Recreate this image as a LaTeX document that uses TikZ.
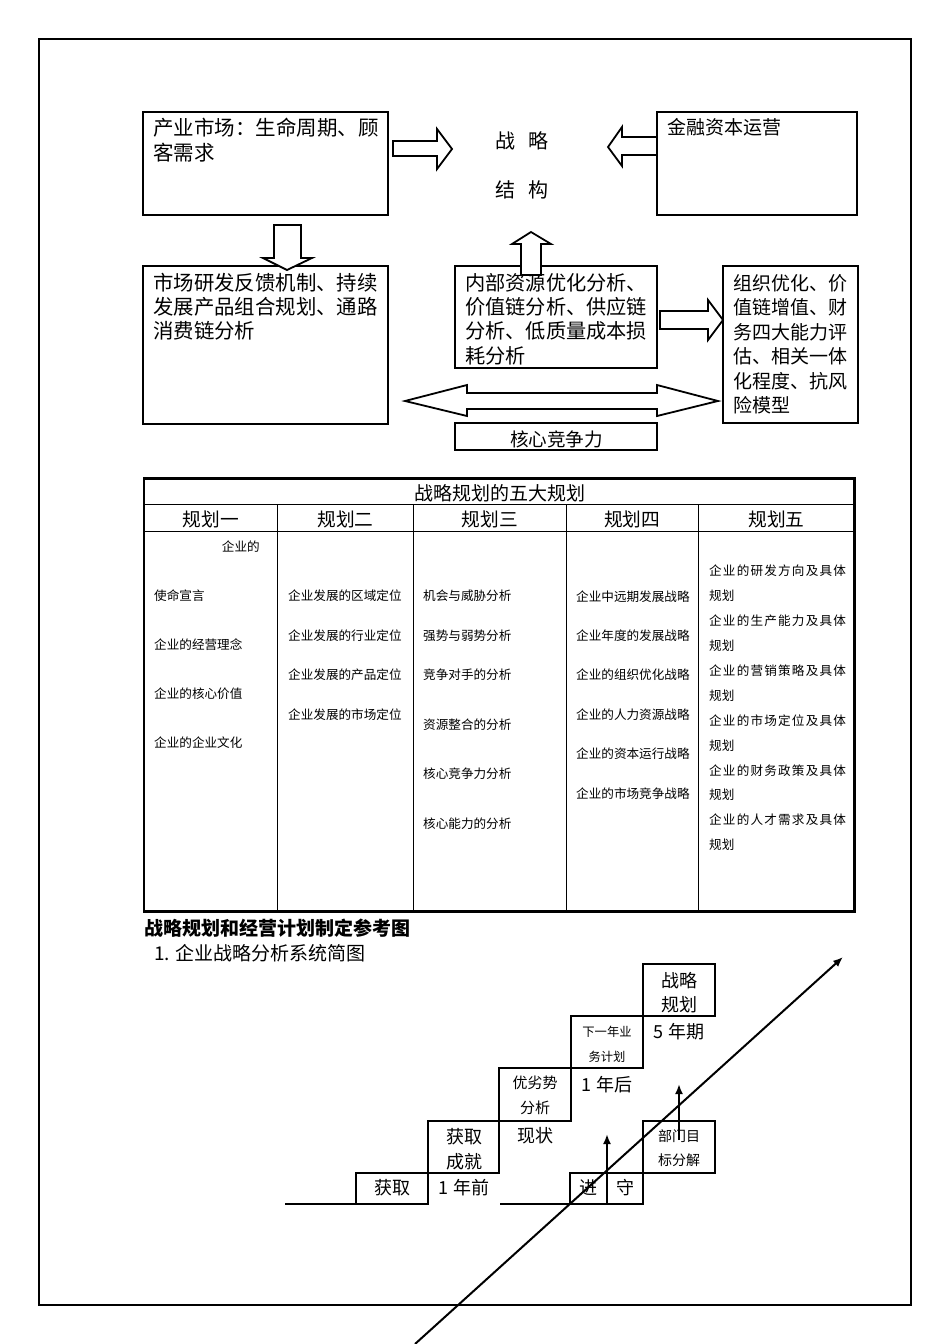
\documentclass[tikz,border=0pt]{standalone}
\usepackage{fontspec}
\usetikzlibrary{arrows.meta}
\newfontfamily\cjk{Noto Sans CJK SC}
\newfontfamily\cjkwide[LetterSpace=9.5]{Noto Sans CJK SC}
\tikzset{
  lbl/.style={inner sep=0pt, anchor=west},
  ctr/.style={inner sep=0pt, anchor=center},
  f/.style={font=\cjk\fontsize{#1}{#1}\selectfont},
  fw/.style={font=\cjkwide\fontsize{#1}{#1}\selectfont},
  box/.style={draw, line width=2pt, inner sep=0pt},
  barrow/.style={draw, fill=white, line width=1.8pt, line join=miter},
  stair/.style={draw, line width=2.5pt},
  thin/.style={line width=1pt},
  arr/.style={line width=2pt, -{Latex[length=10pt,width=8pt]}}
}
\begin{document}
\begin{tikzpicture}[x=1pt,y=-1pt]
\useasboundingbox (0,0) rectangle (950,1344);
\fill[white] (0,0) rectangle (950,1344);
% outer frame
\draw[line width=2.5pt] (39,39) rectangle (911,1305);

% ---------- top diagram ----------
\node[box, minimum width=245pt, minimum height=103pt] (b1) at (265.5,163.5) {};
\node[box, minimum width=200pt, minimum height=103pt] (fin) at (757,163.5) {};
\node[box, minimum width=245pt, minimum height=158pt] (b2) at (265.5,345) {};
\node[box, minimum width=202pt, minimum height=102pt] (b3) at (556,317) {};
\node[box, minimum width=135pt, minimum height=157pt] (b4) at (790.5,344.5) {};
\node[box, minimum width=202pt, minimum height=27pt] (core) at (556,436.5) {};

\node[lbl, f=20.5] (t1a) at (153,128) {产业市场：生命周期、顾};
\node[lbl, f=20.5] (t1b) at (153,153) {客需求};
\node[lbl, f=19] (tfin) at (667,127) {金融资本运营};
\node[ctr, f=20] (s1) at (505,141) {战};
\node[ctr, f=20] (s2) at (538,141) {略};
\node[ctr, f=20] (s3) at (505,190) {结};
\node[ctr, f=20] (s4) at (538,190) {构};
\node[lbl, f=20.4] (t2a) at (153,283) {市场研发反馈机制、持续};
\node[lbl, f=20.4] (t2b) at (153,307) {发展产品组合规划、通路};
\node[lbl, f=20.4] (t2c) at (153,331) {消费链分析};
\node[lbl, f=20.2] (t3a) at (465,283) {内部资源优化分析、};
\node[lbl, f=20.2] (t3b) at (465,307) {价值链分析、供应链};
\node[lbl, f=20.2] (t3c) at (465,331) {分析、低质量成本损};
\node[lbl, f=20.2] (t3d) at (465,356) {耗分析};
\node[lbl, f=19] (t4a) at (733,283) {组织优化、价};
\node[lbl, f=19] (t4b) at (733,307.5) {值链增值、财};
\node[lbl, f=19] (t4c) at (733,332) {务四大能力评};
\node[lbl, f=19] (t4d) at (733,356.5) {估、相关一体};
\node[lbl, f=19] (t4e) at (733,381) {化程度、抗风};
\node[lbl, f=19] (t4f) at (733,405.5) {险模型};
\node[ctr, f=18.6] (tcore) at (556.5,439) {核心竞争力};

% block arrows
\draw[barrow] (393,141) -- (437,141) -- (437,129) -- (452,149) -- (437,169) -- (437,156) -- (393,156) -- cycle;
\draw[barrow] (657,137) -- (622,137) -- (622,127) -- (608,147) -- (622,166) -- (622,155) -- (657,155) -- cycle;
\draw[barrow] (274,225) -- (301,225) -- (301,258) -- (312,258) -- (287,270) -- (263,258) -- (274,258) -- cycle;
\draw[barrow] (521,275) -- (521,244) -- (512,244) -- (531,232) -- (551,244) -- (541,244) -- (541,275) -- cycle;
\draw[barrow] (660,311) -- (708,311) -- (708,300) -- (723,320) -- (708,340) -- (708,329) -- (660,329) -- cycle;
\draw[barrow] (405,401) -- (467,385) -- (467,393) -- (657,393) -- (657,385) -- (718,401) -- (657,416) -- (657,409) -- (467,409) -- (467,416) -- cycle;

% ---------- table ----------
\draw[line width=2.5pt] (144,478.5) rectangle (854.5,911.5);
\draw[line width=1.6pt] (144,504.5) -- (854.5,504.5);
\draw[thin] (144,531.5) -- (854.5,531.5);
\foreach \cx in {277.7,413.3,566,698.7} \draw[thin] (\cx,504.5) -- (\cx,911.5);

\node[ctr, f=19] (th) at (499.5,493) {战略规划的五大规划};
\node[ctr, f=18.7] (h1) at (211,519) {规划一};
\node[ctr, f=18.7] (h2) at (345.5,519) {规划二};
\node[ctr, f=18.7] (h3) at (489.7,519) {规划三};
\node[ctr, f=18.7] (h4) at (632.3,519) {规划四};
\node[ctr, f=18.7] (h5) at (776.5,519) {规划五};

\node[lbl, f=12.6] (c1a) at (221.7,547) {企业的};
\node[lbl, f=12.6] (c1b) at (154,596) {使命宣言};
\node[lbl, f=12.6] (c1c) at (154,645) {企业的经营理念};
\node[lbl, f=12.6] (c1d) at (154,694) {企业的核心价值};
\node[lbl, f=12.6] (c1e) at (154,743) {企业的企业文化};

\node[lbl, f=12.6] (c2a) at (288,596) {企业发展的区域定位};
\node[lbl, f=12.6] (c2b) at (288,635.5) {企业发展的行业定位};
\node[lbl, f=12.6] (c2c) at (288,675) {企业发展的产品定位};
\node[lbl, f=12.6] (c2d) at (288,715) {企业发展的市场定位};

\node[lbl, f=12.6] (c3a) at (423,596) {机会与威胁分析};
\node[lbl, f=12.6] (c3b) at (423,635.5) {强势与弱势分析};
\node[lbl, f=12.6] (c3c) at (423,675) {竞争对手的分析};
\node[lbl, f=12.6] (c3d) at (423,725) {资源整合的分析};
\node[lbl, f=12.6] (c3e) at (423,774) {核心竞争力分析};
\node[lbl, f=12.6] (c3f) at (423,824) {核心能力的分析};

\node[lbl, f=12.6] (c4a) at (576,596.5) {企业中远期发展战略};
\node[lbl, f=12.6] (c4b) at (576,635.5) {企业年度的发展战略};
\node[lbl, f=12.6] (c4c) at (576,675) {企业的组织优化战略};
\node[lbl, f=12.6] (c4d) at (576,714.5) {企业的人力资源战略};
\node[lbl, f=12.6] (c4e) at (576,754) {企业的资本运行战略};
\node[lbl, f=12.6] (c4f) at (576,793.5) {企业的市场竞争战略};

\node[lbl, fw=12.6] (c5a) at (709,571) {企业的研发方向及具体};
\node[lbl, f=12.6] (c5b) at (709,596) {规划};
\node[lbl, fw=12.6] (c5c) at (709,621) {企业的生产能力及具体};
\node[lbl, f=12.6] (c5d) at (709,646) {规划};
\node[lbl, fw=12.6] (c5e) at (709,671) {企业的营销策略及具体};
\node[lbl, f=12.6] (c5f) at (709,696) {规划};
\node[lbl, fw=12.6] (c5g) at (709,721) {企业的市场定位及具体};
\node[lbl, f=12.6] (c5h) at (709,746) {规划};
\node[lbl, fw=12.6] (c5i) at (709,771) {企业的财务政策及具体};
\node[lbl, f=12.6] (c5j) at (709,795) {规划};
\node[lbl, fw=12.6] (c5k) at (709,820) {企业的人才需求及具体};
\node[lbl, f=12.6] (c5l) at (709,845) {规划};

% ---------- headings ----------
\node[lbl, font=\cjk\bfseries\fontsize{19}{19}\selectfont] (head) at (144,928) {战略规划和经营计划制定参考图};
\node[lbl, f=19] (sub) at (154,953) {1. 企业战略分析系统简图};

% ---------- staircase ----------
\draw[stair] (285,1204) -- (428,1204);
\draw[stair] (500,1204) -- (570,1204);
\node[stair, minimum width=72pt, minimum height=31pt, inner sep=0pt] (st1) at (392,1188.5) {};
\node[stair, minimum width=71pt, minimum height=52pt, inner sep=0pt] (st2) at (463.5,1147) {};
\node[stair, minimum width=72pt, minimum height=53pt, inner sep=0pt] (st3) at (535,1094.5) {};
\node[stair, minimum width=72pt, minimum height=52pt, inner sep=0pt] (st4) at (607,1042) {};
\node[stair, minimum width=72pt, minimum height=52pt, inner sep=0pt] (st5) at (679,990) {};
\node[stair, minimum width=37pt, minimum height=31pt, inner sep=0pt] (jin) at (588.5,1188.5) {};
\node[stair, minimum width=36pt, minimum height=31pt, inner sep=0pt] (shou) at (625,1188.5) {};
\node[stair, minimum width=72pt, minimum height=52pt, inner sep=0pt] (dept) at (679,1147) {};

\node[ctr, f=18] (l1) at (392,1188) {获取};
\node[ctr, f=18] (l2a) at (464,1137) {获取};
\node[ctr, f=18] (l2b) at (464,1162) {成就};
\node[ctr, f=18] (y1) at (464,1188) {1 年前};
\node[ctr, f=15] (l3a) at (535,1083) {优劣势};
\node[ctr, f=15] (l3b) at (535,1108) {分析};
\node[ctr, f=18] (y2) at (535,1136) {现状};
\node[ctr, f=12.3] (l4a) at (607,1032) {下一年业};
\node[ctr, f=12.3] (l4b) at (607,1057) {务计划};
\node[ctr, f=18] (y3) at (607,1085) {1 年后};
\node[ctr, f=18] (l5a) at (679,981) {战略};
\node[ctr, f=18] (l5b) at (679,1005) {规划};
\node[ctr, f=18] (y4) at (679,1032) {5 年期};
\node[ctr, f=18] (tj) at (588.5,1188) {进};
\node[ctr, f=18] (ts) at (625,1188) {守};
\node[ctr, f=14] (ld1) at (679,1136) {部门目};
\node[ctr, f=14] (ld2) at (679,1160) {标分解};

% arrows
\coordinate (a1s) at (607,1204);
\coordinate (a1e) at (607,1134);
\coordinate (a2s) at (679,1140);
\coordinate (a2e) at (679,1084);
\coordinate (ds) at (415,1344);
\coordinate (de) at (843,957);
\draw[arr] (a1s) -- (a1e);
\draw[arr] (a2s) -- (a2e);
\draw[arr] (ds) -- (de);
\end{tikzpicture}
\end{document}
